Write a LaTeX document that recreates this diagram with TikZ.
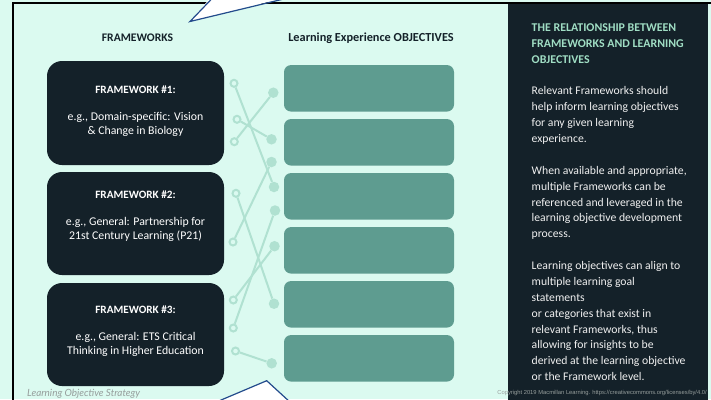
\documentclass[tikz,border=0pt]{standalone}
\usepackage{fontspec}
\setmainfont{Carlito}
\newfontfamily\smallprint{Liberation Sans}
\newfontfamily\captionfont{Lato}
\definecolor{mint}{RGB}{219,250,240}
\definecolor{darkbg}{RGB}{20,33,41}
\definecolor{tealbox}{RGB}{94,156,144}
\definecolor{linkc}{RGB}{176,225,209}
\definecolor{titlegreen}{RGB}{160,222,196}
\definecolor{calloutblue}{RGB}{35,75,140}
\definecolor{softgray}{RGB}{150,158,156}
\begin{document}
\begin{tikzpicture}[x=1pt,y=-1pt,
  fwbox/.style={fill=darkbg, rounded corners=15pt, minimum width=177pt,
    minimum height=104pt, inner sep=0pt},
  fwtext/.style={text=white, align=center, font=\fontsize{11.8}{14}\selectfont},
  objbox/.style={fill=tealbox, rounded corners=7pt, minimum width=170pt,
    minimum height=46.5pt, inner sep=0pt},
  opendot/.style={circle, draw=linkc, line width=2pt, fill=mint,
    minimum size=7pt, inner sep=0pt},
  fulldot/.style={circle, fill=linkc, minimum size=10.5pt, inner sep=0pt},
  link/.style={draw=linkc, line width=2pt},
  header/.style={font=\bfseries\fontsize{11.6}{13}\selectfont, text=darkbg},
  paneltitle/.style={anchor=base west, inner sep=0pt, text=titlegreen,
    font=\bfseries\fontsize{11.9}{14}\selectfont},
  panelbody/.style={anchor=base west, inner sep=0pt, text=white!94!black,
    font=\fontsize{11.7}{14}\selectfont},
  callout/.style={draw=calloutblue, line width=1.2pt, line join=miter}
]
\useasboundingbox (0,0) rectangle (711,399);
\fill[mint] (0,0) rectangle (711,399);

% outer frame
\draw[black, line width=1.3pt] (13,402) -- (13,3) -- (714,3);

% dark side panel
\fill[darkbg] (508,3.7) rectangle (708,402);

% column headings
\node[header] (hfw) at (137.5,38) {FRAMEWORKS};
\node[header, font=\bfseries\fontsize{12.3}{14}\selectfont] (hobj) at (371,38)
  {Learning Experience OBJECTIVES};

% framework boxes
\node[fwbox] (fw1) at (135.5,113) {};
\node[fwbox, minimum height=103pt] (fw2) at (135.5,223.5) {};
\node[fwbox, minimum height=103pt] (fw3) at (135.5,334.5) {};
\node[fwtext] (fw1t) at (135.5,111)
  {\textbf{\fontsize{11.2}{14}\selectfont FRAMEWORK \#1:}\\[13pt] e.g., Domain-specific: Vision\\ \& Change in Biology};
\node[fwtext] (fw2t) at (135.5,216.5)
  {\textbf{\fontsize{11.2}{14}\selectfont FRAMEWORK \#2:}\\[13pt] e.g., General: Partnership for\\ 21st Century Learning (P21)};
\node[fwtext] (fw3t) at (135.5,331.5)
  {\textbf{\fontsize{11.2}{14}\selectfont FRAMEWORK \#3:}\\[13pt] e.g., General: ETS Critical\\ Thinking in Higher Education};

% objective boxes
\foreach \i in {1,...,6}
  \node[objbox] (obj\i) at (369,{88.3+54*(\i-1)}) {};

% framework-side ends
\node[opendot] (l1) at (234,83.3) {};
\node[opendot] (l2) at (237,119.3) {};
\node[opendot] (l3) at (234.3,141.7) {};
\node[opendot] (l4) at (236,193.3) {};
\node[opendot] (l5) at (233,242) {};
\node[opendot] (l6) at (233.3,300) {};
\node[opendot] (l7) at (233.3,328) {};
\node[opendot] (l8) at (235.5,351) {};
% objective-side ends
\node[fulldot] (r1) at (273.3,92.7) {};
\node[fulldot] (r2) at (271.5,139.3) {};
\node[fulldot] (r3) at (271.5,162) {};
\node[fulldot] (r4) at (274,187) {};
\node[fulldot] (r5) at (275,210.5) {};
\node[fulldot] (r6) at (274.5,246.2) {};
\node[fulldot] (r7) at (274,303.7) {};
\node[fulldot] (r8) at (271.7,363.3) {};

% alignment links
\draw[link] (l1) -- (r4);
\draw[link] (l2) -- (r2);
\draw[link] (l3) -- (r1);
\draw[link] (l4) -- (r7);
\draw[link] (l5) -- (r3);
\draw[link] (l6) -- (r6);
\draw[link] (l7) -- (r5);
\draw[link] (l8) -- (r8);

% side panel text
\foreach \k/\t in {0/THE RELATIONSHIP BETWEEN, 1/FRAMEWORKS AND LEARNING, 2/OBJECTIVES}
  \node[paneltitle] (pt\k) at (531.5,{31.5+15.87*\k}) {\t};
\foreach \k/\t in {4/Relevant Frameworks should, 5/help inform learning objectives,
    6/for any given learning, 7/experience.,
    9/{When available and appropriate,}, 10/multiple Frameworks can be,
    11/referenced and leveraged in the, 12/learning objective development,
    13/process.,
    15/Learning objectives can align to, 16/multiple learning goal,
    17/statements, 18/or categories that exist in, 19/{relevant Frameworks, thus},
    20/allowing for insights to be, 21/derived at the learning objective,
    22/or the Framework level.}
  \node[panelbody] (pb\k) at (531.5,{31.5+15.87*\k}) {\t};

% footer lines
\node[anchor=base west, inner sep=0pt, text=softgray,
  font=\captionfont\itshape\fontsize{9.9}{11}\selectfont] (cap) at (27,396)
  {Learning Objective Strategy};
\node[anchor=base east, inner sep=0pt, text=softgray,
  font=\smallprint\fontsize{5.8}{7}\selectfont] (copy) at (707,394.5)
  {Copyright 2019 Macmillan Learning. https://creativecommons.org/licenses/by/4.0/};

% speech-bubble tails
\fill[white] (211,-3) -- (190,21.5) -- (288,-3) -- cycle;
\draw[callout] (213.5,-3) -- (190,21.5) -- (292,-3);
\fill[white] (218,402) -- (266.7,380.7) -- (290,402) -- cycle;
\draw[callout] (214,403) -- (266.7,380.7) -- (291,403);
\end{tikzpicture}
\end{document}
